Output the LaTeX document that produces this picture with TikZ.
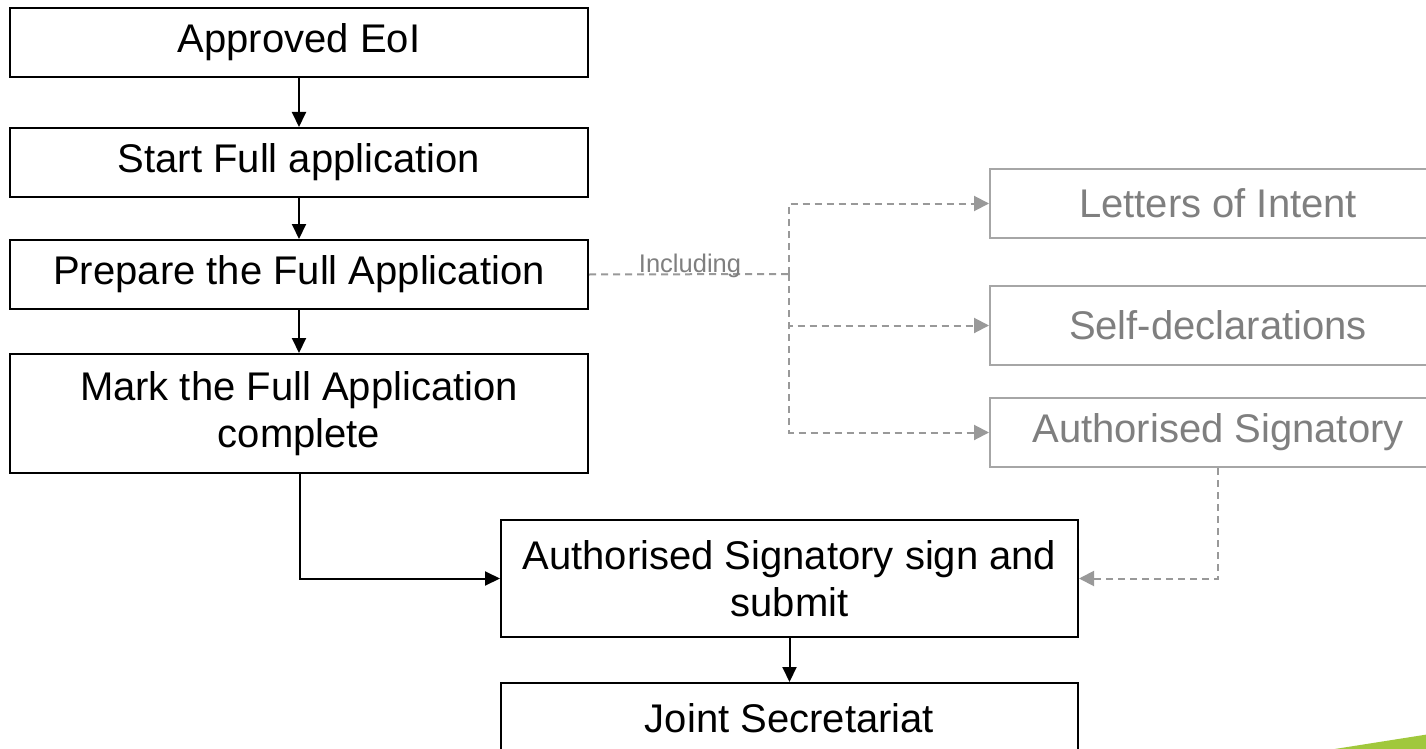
\documentclass[tikz,border=0pt]{standalone}
\usepackage{fontspec}
\setmainfont{Liberation Sans}
\usetikzlibrary{arrows.meta}
\definecolor{gline}{HTML}{999999}
\definecolor{gbox}{HTML}{A6A6A6}
\definecolor{gtext}{HTML}{7F7F7F}
\definecolor{leaf}{HTML}{A0C83C}
\tikzset{
  blackbox/.style={draw=black, line width=2pt, rectangle, align=center, inner sep=0pt,
    font=\fontsize{40}{47}\selectfont, text=black},
  greybox/.style={draw=gbox, line width=2pt, rectangle, align=center, inner sep=0pt,
    minimum width=456pt, font=\fontsize{40}{47}\selectfont, text=gtext},
  flow/.style={draw=black, line width=2pt, -{Triangle[length=15pt,width=14pt]}},
  gflow/.style={draw=gline, line width=2pt, dash pattern=on 7pt off 5pt},
  gtip/.style={-{Triangle[length=15pt,width=15pt]}},
}
\begin{document}
\begin{tikzpicture}[x=1pt,y=-1pt]
\useasboundingbox (0,0) rectangle (1426,749);
\clip (0,0) rectangle (1426,749);
\fill[white] (0,0) rectangle (1426,749);

\node[blackbox, minimum width=578pt, minimum height=69pt] (a) at (299,42.5) {Approved EoI};
\node[blackbox, minimum width=578pt, minimum height=69pt] (b) at (299,162.5) {Start Full application};
\node[blackbox, minimum width=578pt, minimum height=69pt] (c) at (299,274.5) {Prepare the Full Application};
\node[blackbox, minimum width=578pt, minimum height=119pt] (d) at (299,413.5) {\raisebox{-3pt}{\parbox{560pt}{\centering Mark the Full Application\\complete}}};
\node[blackbox, minimum width=577pt, minimum height=117pt] (e) at (789.5,578.5) {Authorised Signatory sign and\\submit};
\node[blackbox, minimum width=577pt, minimum height=117pt] (f) at (789.5,741.5) {};
\node[font=\fontsize{40}{47}\selectfont, anchor=center] (ft) at (789.5,718) {Joint Secretariat};

\node[greybox, minimum height=69pt] (L) at (1218,203.5) {Letters of Intent};
\node[greybox, minimum height=79pt] (S) at (1218,325.5) {Self-declarations};
\node[greybox, minimum height=69pt] (A) at (1218,432.5) {Authorised Signatory};

\draw[flow] (a.south) -- (b.north);
\draw[flow] (b.south) -- (c.north);
\draw[flow] (c.south) -- (d.north);
\draw[flow] (d.south -| 300,0) |- (e.west);
\draw[flow] (e.south) -- (f.north);

\coordinate (j) at (789,274);
\draw[gflow] (c.east) -- (j);
\draw[gflow, gtip] (j) |- (L.west);
\draw[gflow, gtip] (j) |- (S.west);
\draw[gflow, gtip] (j) |- (A.west);
\draw[gflow, gtip] (A.south) |- (e.east);

\node[anchor=base, text=gtext, font=\fontsize{25.5}{30}\selectfont, inner sep=0pt] (inc) at (690,272) {Including};

\fill[leaf] (1322,751) -- (1430,734) -- (1430,751) -- cycle;
\end{tikzpicture}
\end{document}
